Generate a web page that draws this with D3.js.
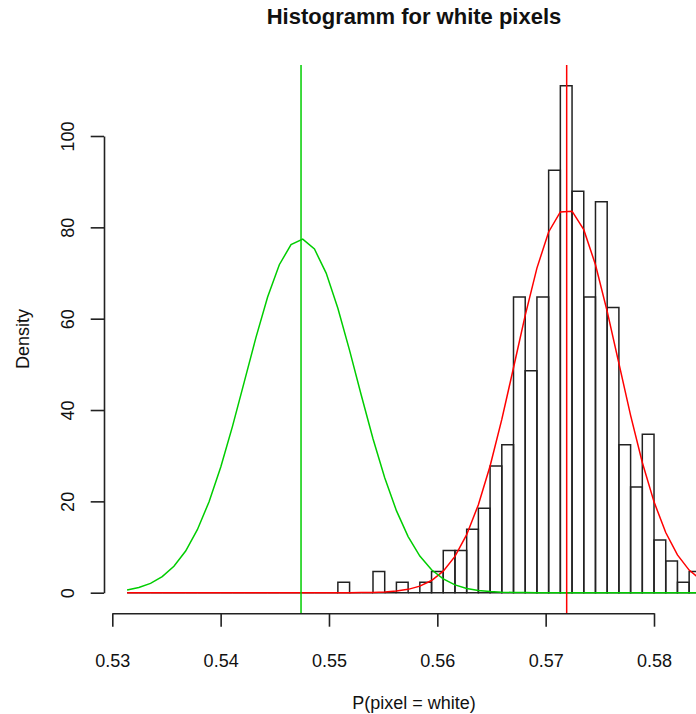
<!DOCTYPE html>
<html>
<head>
<meta charset="utf-8">
<script src="https://cdn.jsdelivr.net/npm/d3@7"></script>
<style>
  body { margin: 0; background: #fff; }
  svg { display: block; }
  text { font-family: "Liberation Sans", Arial, Helvetica, sans-serif; fill: #111; }
</style>
</head>
<body>
<div id="chart"></div>
<script>

// histogram breaks (P(pixel = white)), one more than the number of bins
var breaks = [0.531366, 0.532447, 0.533528, 0.534608, 0.535689, 0.536770, 0.537851, 0.538932,
  0.540012, 0.541093, 0.542174, 0.543255, 0.544336, 0.545416, 0.546497, 0.547578, 0.548659,
  0.549740, 0.550820, 0.551901, 0.552982, 0.554063, 0.555144, 0.556224, 0.557305, 0.558386,
  0.559467, 0.560548, 0.561628, 0.562709, 0.563790, 0.564871, 0.565952, 0.567032, 0.568113,
  0.569194, 0.570275, 0.571356, 0.572436, 0.573517, 0.574598, 0.575679, 0.576760, 0.577840,
  0.578921, 0.580002, 0.581083, 0.582164, 0.583244, 0.584325];

// counts per bin (400 observations)
var counts = [0, 0, 0, 0, 0, 0, 0, 0, 0, 0, 0, 0, 0, 0, 0, 0, 0, 0,
  1, 0, 0, 2, 0, 1, 0, 1, 2, 4, 4, 6, 8, 12, 14, 28, 21, 28, 40, 48, 38, 28, 37, 27,
  14, 10, 15, 5, 3, 1, 2];
var nObs = 400;

// fitted densities, read at the break points
var greenDensity = [0.60, 1.13, 2.04, 3.51, 5.79, 9.13, 13.79, 19.92, 27.53, 36.42, 46.11,
  55.85, 64.74, 71.81, 76.22, 77.42, 75.25, 69.99, 62.29, 53.05, 43.23, 33.72, 25.16, 17.96,
  12.28, 8.03, 5.02, 3.01, 1.72, 0.94, 0.50, 0.25, 0.12, 0.05, 0.02,
  0, 0, 0, 0, 0, 0, 0, 0, 0, 0, 0, 0, 0, 0, 0];
var redDensity = [0, 0, 0, 0, 0, 0, 0, 0, 0, 0, 0, 0, 0, 0, 0, 0, 0, 0, 0, 0,
  0.03, 0.07, 0.16, 0.35, 0.73, 1.43, 2.67, 4.73, 7.96, 12.71, 19.27, 27.75, 37.94, 49.25,
  60.72, 71.07, 78.99, 83.36, 83.53, 79.49, 71.82, 61.61, 50.20, 38.83, 28.52, 19.89, 13.17,
  8.28, 4.95, 2.80];

var greenMean = 0.54742;
var redMean = 0.57194;

var xTicks = [0.53, 0.54, 0.55, 0.56, 0.57, 0.58];
var yTicks = [0, 20, 40, 60, 80, 100];

// Chart dimensions (plot region runs past the right edge, like the cropped original)
var width = 696, height = 714;
var plotLeft = 104, plotTop = 65, plotBottom = 613.3;

var x = d3.scaleLinear().domain([0.53, 0.58]).range([112.3, 654]),
    y = d3.scaleLinear().domain([0, 100]).range([592.7, 136]);

var svg = d3.select("#chart").append("svg")
    .attr("width", width)
    .attr("height", height);

svg.append("rect").attr("width", width).attr("height", height).attr("fill", "#fff");

// title + axis labels
svg.append("text")
    .attr("x", 414).attr("y", 23.5)
    .attr("text-anchor", "middle")
    .style("font-size", "22px")
    .style("font-weight", "bold")
    .text("Histogramm for white pixels");
svg.append("text")
    .attr("x", 414).attr("y", 709)
    .attr("text-anchor", "middle")
    .style("font-size", "18px")
    .text("P(pixel = white)");
svg.append("text")
    .attr("transform", "translate(29,339) rotate(-90)")
    .attr("text-anchor", "middle")
    .style("font-size", "18px")
    .text("Density");

// histogram
var binWidth = (breaks[breaks.length - 1] - breaks[0]) / (breaks.length - 1);
var bins = counts.map(function(c, i) {
  return {x0: breaks[i], x1: breaks[i + 1], density: c / (nObs * binWidth)};
});
svg.append("g")
    .attr("fill", "none")
    .attr("stroke", "#222")
    .attr("stroke-width", 1.5)
  .selectAll("path")
    .data(bins)
    .enter().append("path")
    .attr("d", function(d) {
      return "M" + x(d.x0) + "," + y(0) + "V" + y(d.density) + "H" + x(d.x1) + "V" + y(0) + "Z";
    });

// density curves
var line = d3.line()
    .x(function(d, i) { return x(breaks[i]); })
    .y(function(d) { return y(d); });
svg.append("path")
    .datum(redDensity)
    .attr("d", line)
    .attr("fill", "none")
    .attr("stroke", "#ff0000")
    .attr("stroke-width", 1.5);
svg.append("path")
    .datum(greenDensity)
    .attr("d", line)
    .attr("fill", "none")
    .attr("stroke", "#00cd00")
    .attr("stroke-width", 1.5);

// mean lines
svg.append("line")
    .attr("x1", x(greenMean)).attr("x2", x(greenMean))
    .attr("y1", plotTop).attr("y2", plotBottom)
    .attr("stroke", "#00cd00").attr("stroke-width", 1.5);
svg.append("line")
    .attr("x1", x(redMean)).attr("x2", x(redMean))
    .attr("y1", plotTop).attr("y2", plotBottom)
    .attr("stroke", "#ff0000").attr("stroke-width", 1.5);

// axes
var xAxis = svg.append("g")
    .attr("transform", "translate(0," + plotBottom + ")")
    .call(d3.axisBottom(x).tickValues(xTicks).tickSize(13.4).tickSizeOuter(0)
      .tickFormat(d3.format(".2f")));
var yAxis = svg.append("g")
    .attr("transform", "translate(" + plotLeft + ",0)")
    .call(d3.axisLeft(y).tickValues(yTicks).tickSize(13.3).tickSizeOuter(0));

[xAxis, yAxis].forEach(function(ax) {
  ax.attr("font-family", null).attr("font-size", null);
  ax.selectAll("path, line").attr("stroke", "#222").attr("stroke-width", 1.6);
  ax.selectAll("text").attr("fill", "#111").style("font-size", "18px").attr("dy", null);
});
xAxis.selectAll("text").attr("y", 54);
yAxis.selectAll("text")
    .attr("transform", "rotate(-90)")
    .attr("x", 0)
    .attr("y", -30)
    .attr("text-anchor", "middle");

</script>
</body>
</html>
